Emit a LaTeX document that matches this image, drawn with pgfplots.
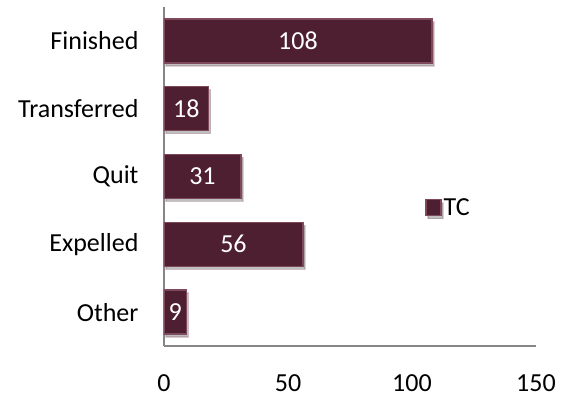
\documentclass[border=0pt]{standalone}
\usepackage{fontspec}
\setmainfont{Carlito}
\usepackage{pgfplots}
\usepackage{pgfplotstable}
\pgfplotsset{compat=1.18}
\usetikzlibrary{shadows}
\definecolor{barM}{HTML}{4E1F30}
\definecolor{barL}{HTML}{7E4A5B}
\definecolor{axgray}{HTML}{868686}
\pgfplotstableread{
y v
0 9
1 56
2 31
3 18
4 108
}\data
\begin{document}
\begin{tikzpicture}[font=\fontsize{26}{31}\selectfont]
\begin{axis}[
  name=ax,
  scale only axis, width=372pt, height=339pt,
  xmin=0, xmax=150, ymin=-0.5, ymax=4.5,
  axis lines*=left,
  axis line style={draw=axgray, line width=1.3pt},
  xtick={0,50,100,150},
  ytick={0,1,2,3,4},
  yticklabels={Other,Expelled,Quit,Transferred,Finished},
  major tick length=0pt,
  /pgf/number format/assume math mode=true,
  xticklabel style={inner ysep=0pt, yshift=-28pt, font=\fontsize{26}{31}\selectfont},
  yticklabel style={xshift=-22pt, font=\fontsize{26}{31}\selectfont},
  legend style={at={(axis cs:104,1.54)}, anchor=west, draw=none, fill=none,
    font=\fontsize{26}{31}\selectfont},
  legend image code/.code={\draw[#1] (-2pt,-8pt) rectangle (13pt,8pt);},
]
\addplot[xbar, bar width=44pt, bar shift=0pt,
  fill=barM, draw=barL, line width=1.5pt,
  drop shadow={shadow xshift=2pt, shadow yshift=-3pt, opacity=0.25, fill=black}]
  table[x=v, y=y]{\data};
\addlegendentry{TC}
\addplot[draw=none, mark=none, forget plot, nodes near coords, nodes near coords align={center},
  point meta=explicit,
  every node near coord/.style={anchor=center, text=white, font=\fontsize{26}{31}\selectfont}]
  table[x expr=\thisrow{v}/2, y=y, meta=v]{\data};
\end{axis}
\path[use as bounding box] ([xshift=-164pt,yshift=-54pt]ax.south west) rectangle ([xshift=28pt,yshift=7pt]ax.north east);
\end{tikzpicture}
\end{document}
